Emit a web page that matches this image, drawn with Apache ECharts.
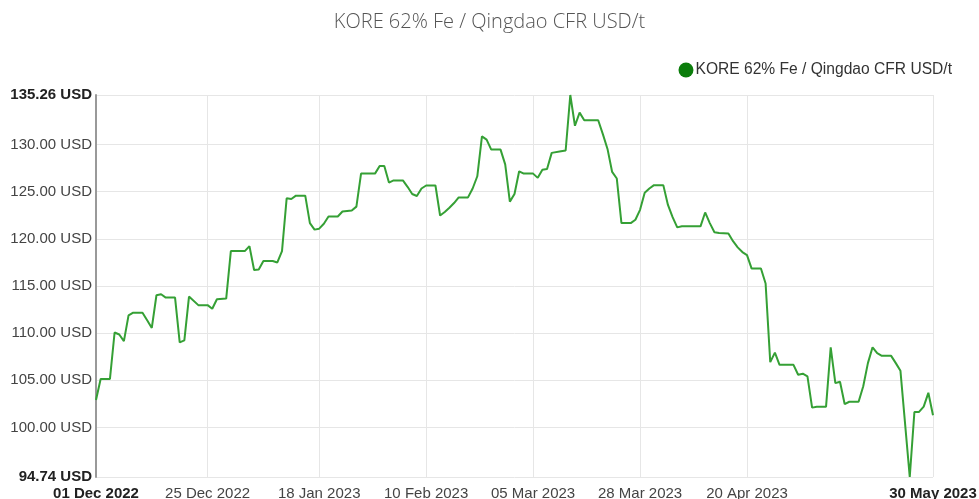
<!DOCTYPE html>
<html>
<head>
<meta charset="utf-8">
<script src="https://cdn.jsdelivr.net/npm/echarts@6/dist/echarts.min.js"></script>
<style>
  html, body { margin: 0; padding: 0; background: #fff; }
  #main { width: 979px; height: 499px; }
</style>
</head>
<body>
<div id="main"></div>
<script>
// price dates
var dates = [
  '2022-12-01','2022-12-02','2022-12-04','2022-12-05','2022-12-06','2022-12-07','2022-12-08','2022-12-09',
  '2022-12-11','2022-12-12','2022-12-13','2022-12-14','2022-12-15','2022-12-16','2022-12-18','2022-12-19',
  '2022-12-20','2022-12-21','2022-12-23','2022-12-25','2022-12-26','2022-12-27','2022-12-29','2022-12-30',
  '2023-01-02','2023-01-03','2023-01-04','2023-01-05','2023-01-06','2023-01-08','2023-01-09','2023-01-10',
  '2023-01-11','2023-01-12','2023-01-13','2023-01-15','2023-01-16','2023-01-17','2023-01-18','2023-01-19',
  '2023-01-20','2023-01-22','2023-01-23','2023-01-25','2023-01-26','2023-01-27','2023-01-30','2023-01-31',
  '2023-02-01','2023-02-02','2023-02-03','2023-02-05','2023-02-06','2023-02-07','2023-02-08','2023-02-09',
  '2023-02-10','2023-02-12','2023-02-13','2023-02-14','2023-02-15','2023-02-16','2023-02-17','2023-02-19',
  '2023-02-20','2023-02-21','2023-02-22','2023-02-23','2023-02-24','2023-02-26','2023-02-27','2023-02-28',
  '2023-03-01','2023-03-02','2023-03-03','2023-03-05','2023-03-06','2023-03-07','2023-03-08','2023-03-09',
  '2023-03-11','2023-03-12','2023-03-13','2023-03-14','2023-03-15','2023-03-16','2023-03-19','2023-03-20',
  '2023-03-21','2023-03-22','2023-03-23','2023-03-24','2023-03-26','2023-03-27','2023-03-28','2023-03-29',
  '2023-03-30','2023-03-31','2023-04-02','2023-04-03','2023-04-04','2023-04-05','2023-04-06','2023-04-10',
  '2023-04-11','2023-04-12','2023-04-13','2023-04-14','2023-04-16','2023-04-17','2023-04-18','2023-04-19',
  '2023-04-20','2023-04-21','2023-04-23','2023-04-24','2023-04-25','2023-04-26','2023-04-27','2023-04-30',
  '2023-05-01','2023-05-02','2023-05-03','2023-05-04','2023-05-05','2023-05-07','2023-05-08','2023-05-09',
  '2023-05-10','2023-05-11','2023-05-12','2023-05-14','2023-05-15','2023-05-16','2023-05-17','2023-05-18',
  '2023-05-19','2023-05-21','2023-05-22','2023-05-23','2023-05-25','2023-05-26','2023-05-27','2023-05-28',
  '2023-05-29','2023-05-30'
];
var prices = [
  102.90,105.14,105.14,110.07,109.86,109.16,111.88,112.17,
  112.17,111.36,110.55,114.02,114.12,113.77,113.77,109.02,
  109.23,113.88,112.97,112.97,112.59,113.60,113.67,118.70,
  118.70,119.23,116.70,116.75,117.65,117.65,117.50,118.70,
  124.30,124.23,124.58,124.58,121.67,120.98,121.08,121.60,
  122.37,122.37,122.90,123.00,123.42,126.92,126.92,127.73,
  127.73,125.97,126.20,126.20,125.52,124.76,124.55,125.34,
  125.66,125.66,122.48,122.85,123.30,123.80,124.40,124.40,
  125.34,126.64,130.87,130.52,129.47,129.47,127.90,123.95,
  124.76,127.17,126.92,126.92,126.47,127.34,127.41,129.12,
  129.30,129.37,135.26,132.00,133.39,132.58,132.58,131.11,
  129.54,127.10,126.40,121.67,121.67,122.03,123.08,124.90,
  125.34,125.70,125.70,123.60,122.30,121.22,121.33,121.33,
  122.80,121.67,120.70,120.62,120.56,119.75,119.10,118.60,
  118.28,116.85,116.85,115.27,106.92,107.93,106.64,106.64,
  105.59,105.70,105.41,102.10,102.20,102.20,108.50,104.70,
  104.85,102.48,102.72,102.72,104.36,106.82,108.50,107.87,
  107.59,107.59,106.82,106.00,94.74,101.64,101.64,102.20,
  103.67,101.29
];
var yTicks = [94.74, 100, 105, 110, 115, 120, 125, 130, 135.26];
var xTicks = ['2022-12-01','2022-12-25','2023-01-18','2023-02-10','2023-03-05','2023-03-28','2023-04-20','2023-05-30'];
var seriesName = 'KORE 62% Fe / Qingdao CFR USD/t';

var months = ['Jan','Feb','Mar','Apr','May','Jun','Jul','Aug','Sep','Oct','Nov','Dec'];
function toTime(s) {
    var p = s.split('-');
    return Date.UTC(+p[0], +p[1] - 1, +p[2]);
}
function fmtDate(t) {
    var d = new Date(t);
    var dd = d.getUTCDate();
    return (dd < 10 ? '0' + dd : dd) + ' ' + months[d.getUTCMonth()] + ' ' + d.getUTCFullYear();
}

var xMin = toTime(xTicks[0]);
var xMax = toTime(xTicks[xTicks.length - 1]);
var yMin = yTicks[0];
var yMax = yTicks[yTicks.length - 1];

var myChart = echarts.init(document.getElementById('main'));

var option = {
    animation: false,
    title: {
        text: seriesName,
        left: 'center',
        top: 7,
        textStyle: {
            fontFamily: 'Open Sans',
            fontWeight: 300,
            fontSize: 20,
            color: '#555'
        }
    },
    legend: {
        right: 22,
        top: 57,
        icon: 'circle',
        itemWidth: 15,
        itemHeight: 15,
        itemGap: 4,
        data: [{ name: seriesName, itemStyle: { color: '#0b7d0b' } }],
        textStyle: {
            fontFamily: 'Liberation Sans',
            fontSize: 15.6,
            color: '#333',
            padding: [0, 0, 0, -3]
        }
    },
    grid: {
        left: 96,
        right: 46,
        top: 95,
        bottom: 22,
        outerBoundsMode: 'none'
    },
    xAxis: {
        // dates as UTC timestamps on a plain value scale
        type: 'value',
        min: xMin,
        max: xMax,
        axisLine: { show: false },
        axisTick: { show: false, customValues: xTicks.map(toTime) },
        splitLine: { show: true, lineStyle: { color: '#e6e6e6', width: 1 } },
        axisLabel: {
            customValues: xTicks.map(toTime),
            margin: 9,
            formatter: function (v) {
                var s = fmtDate(v);
                return (v === xMin || v === xMax) ? '{b|' + s + '}' : '{n|' + s + '}';
            },
            rich: {
                b: { fontFamily: 'Liberation Sans', fontSize: 15, fontWeight: 'bold', color: '#222' },
                n: { fontFamily: 'Liberation Sans', fontSize: 15, color: '#444' }
            }
        }
    },
    yAxis: {
        type: 'value',
        min: yMin,
        max: yMax,
        axisLine: { show: true, lineStyle: { color: '#999', width: 2 } },
        axisTick: { show: false, customValues: yTicks },
        splitLine: { show: true, lineStyle: { color: '#e6e6e6', width: 1 } },
        axisLabel: {
            customValues: yTicks,
            margin: 4,
            formatter: function (v) {
                var s = v.toFixed(2) + ' USD';
                return (v === yMin || v === yMax) ? '{b|' + s + '}' : '{n|' + s + '}';
            },
            rich: {
                b: { fontFamily: 'Liberation Sans', fontSize: 15, fontWeight: 'bold', color: '#222' },
                n: { fontFamily: 'Liberation Sans', fontSize: 15, color: '#444' }
            }
        }
    },
    series: [{
        name: seriesName,
        type: 'line',
        showSymbol: false,
        symbol: 'none',
        data: dates.map(function (d, i) { return [toTime(d), prices[i]]; }),
        lineStyle: { color: '#35a035', width: 2 },
        itemStyle: { color: '#35a035' }
    }]
};

myChart.setOption(option);
window.onresize = myChart.resize;
</script>
</body>
</html>
